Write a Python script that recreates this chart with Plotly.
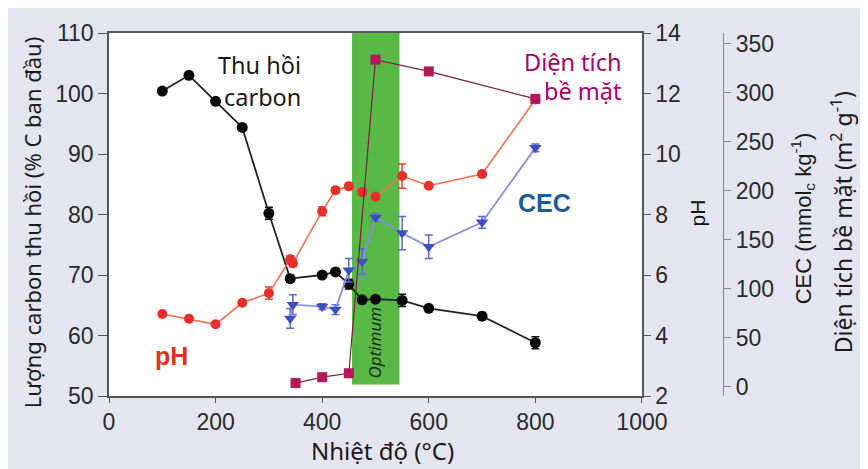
import plotly.graph_objects as go

# ---- data ----
temp_carbon = [100, 150, 200, 250, 300, 340, 400, 425, 450, 475, 500, 550, 600, 700, 800]
carbon_rec = [100.4, 103.0, 98.7, 94.4, 80.2, 69.4, 70.0, 70.5, 68.5, 65.9, 66.0, 65.8, 64.5, 63.2, 58.8]
carbon_err = [0, 0, 0, 0, 1.0, 0.6, 0, 0, 0.8, 0, 0, 1.0, 0, 0.6, 1.0]

temp_ph = [100, 150, 200, 250, 300, 340, 345, 400, 425, 450, 475, 500, 550, 600, 700, 800]
ph_vals = [4.71, 4.55, 4.37, 5.08, 5.40, 6.52, 6.39, 8.11, 8.80, 8.93, 8.74, 8.59, 9.27, 8.95, 9.34, 11.8]
ph_err = [0, 0, 0, 0, 0.2, 0.12, 0.12, 0.15, 0.1, 0.1, 0.1, 0, 0.4, 0, 0.1, 0.1]

temp_cec = [340, 345, 400, 425, 450, 475, 500, 550, 600, 700, 800]
cec_vals = [70, 84, 82, 79, 119, 128, 173, 157, 143, 168, 244]
cec_err = [10, 10, 3, 5, 12, 13, 4, 17, 12, 6, 4]

temp_sa = [350, 400, 450, 500, 600, 800]
sa_vals = [4, 10, 14, 334, 322, 294]

optimum_range = [456, 545]

x_ticks = [0, 200, 400, 600, 800, 1000]

fig = go.Figure()

# Optimum band
fig.add_shape(type="rect", xref="x", yref="y", x0=optimum_range[0], x1=optimum_range[1],
              y0=51.9, y1=110, fillcolor="#58b947", line=dict(width=0), layer="below")

fig.add_trace(go.Scatter(
    x=temp_ph, y=ph_vals, yaxis="y2", mode="lines+markers",
    line=dict(color="#f2714f", width=1.6),
    marker=dict(color="#e8302a", size=10, symbol="circle"),
    error_y=dict(type="data", array=ph_err, color="#e8402a", thickness=1.5, width=4),
    showlegend=False))

fig.add_trace(go.Scatter(
    x=temp_cec, y=cec_vals, yaxis="y3", mode="lines+markers",
    line=dict(color="#8a90da", width=1.8),
    marker=dict(color="#3b4fc2", size=11, symbol="triangle-down"),
    error_y=dict(type="data", array=cec_err, color="#5a6ad0", thickness=1.5, width=4),
    showlegend=False))

fig.add_trace(go.Scatter(
    x=temp_carbon, y=carbon_rec, yaxis="y", mode="lines+markers",
    line=dict(color="#222222", width=1.8),
    marker=dict(color="#0a0a0a", size=11, symbol="circle"),
    error_y=dict(type="data", array=carbon_err, color="#111111", thickness=1.5, width=4),
    showlegend=False))

fig.add_trace(go.Scatter(
    x=temp_sa, y=sa_vals, yaxis="y3", mode="lines+markers",
    line=dict(color="#7a1f3c", width=1.2),
    marker=dict(color="#b3185a", size=10, symbol="square"),
    showlegend=False))

tickfont = dict(family="Liberation Sans, Arial, sans-serif", size=23, color="#2a2a2a")
axcol = "#555555"

fig.update_layout(
    width=860, height=461,
    margin=dict(l=101, r=145, t=14, b=73),
    paper_bgcolor="#e5e5f1",
    plot_bgcolor="white",
    xaxis=dict(domain=[0, 0.868], range=[0, 1000], tickvals=x_ticks,
               showline=True, linecolor=axcol, linewidth=1.5, mirror=True,
               ticks="outside", ticklen=5, tickcolor=axcol, tickfont=tickfont,
               showgrid=False, zeroline=False),
    yaxis=dict(range=[50, 110], dtick=10, showline=True, linecolor=axcol, linewidth=1.5,
               ticks="outside", ticklen=9, tickcolor=axcol, tickfont=tickfont,
               showgrid=False, zeroline=False),
    yaxis2=dict(range=[2, 14], dtick=2, overlaying="y", side="right", anchor="x",
                showline=True, linecolor=axcol, linewidth=1.5,
                ticks="outside", ticklen=7, tickcolor=axcol, tickfont=tickfont,
                showgrid=False, zeroline=False),
    yaxis3=dict(range=[-9.2, 361.2], tickvals=[0, 50, 100, 150, 200, 250, 300, 350],
                overlaying="y", side="right", anchor="free", position=1,
                showline=True, linecolor="#888888", linewidth=1.2,
                ticks="outside", ticklen=7, tickcolor="#888888", tickfont=tickfont,
                showgrid=False, zeroline=False),
)

lab = "Noto Sans, sans-serif"
arial = "Liberation Sans, Arial, sans-serif"
ann = [
    dict(text="Lượng carbon thu hồi (% C ban đầu)", x=-0.1254, y=0.4786, textangle=-90,
         font=dict(family=lab, size=22, color="#1a1a1a")),
    dict(text="Nhiệt độ (°C)", x=0.446, y=-0.1497,
         font=dict(family=lab, size=24, color="#1a1a1a")),
    dict(text="pH", x=0.959, y=0.505, textangle=-90,
         font=dict(family=arial, size=21, color="#111111")),
    dict(text="CEC (mmol<sub>c</sub> kg<sup>-1</sup>)", x=1.130, y=0.489, textangle=-90,
         font=dict(family=arial, size=22, color="#1a1a1a")),
    dict(text="Diện tích bề mặt (m<sup>2</sup> g<sup>-1</sup>)", x=1.194, y=0.479, textangle=-90,
         font=dict(family=lab, size=23, color="#1a1a1a")),
    dict(text="Thu hồi", x=0.316, y=0.9118, xanchor="right",
         font=dict(family=lab, size=23.5, color="#1a1a1a")),
    dict(text="carbon", x=0.316, y=0.8235, xanchor="right",
         font=dict(family=lab, size=23.5, color="#1a1a1a")),
    dict(text="Diện tích", x=0.8371, y=0.9198, xanchor="right",
         font=dict(family=lab, size=23.5, color="#a8006c")),
    dict(text="bề mặt", x=0.8371, y=0.8396, xanchor="right",
         font=dict(family=lab, size=23.5, color="#a8006c")),
    dict(text="<b>pH</b>", x=0.101, y=0.1096,
         font=dict(family=arial, size=25, color="#e0301e")),
    dict(text="<b>CEC</b>", x=0.710, y=0.532,
         font=dict(family=arial, size=25, color="#1c5c9c")),
    dict(text="<i>Optimum</i>", x=0.4332, y=0.147, textangle=-90,
         font=dict(family=lab, size=17, color="#1a2e1a")),
]
for a in ann:
    a.setdefault("xref", "paper")
    a.setdefault("yref", "paper")
    a.setdefault("showarrow", False)
    a.setdefault("xanchor", "center")
    a.setdefault("yanchor", "middle")
fig.update_layout(annotations=ann)

fig.write_html("out.html")
